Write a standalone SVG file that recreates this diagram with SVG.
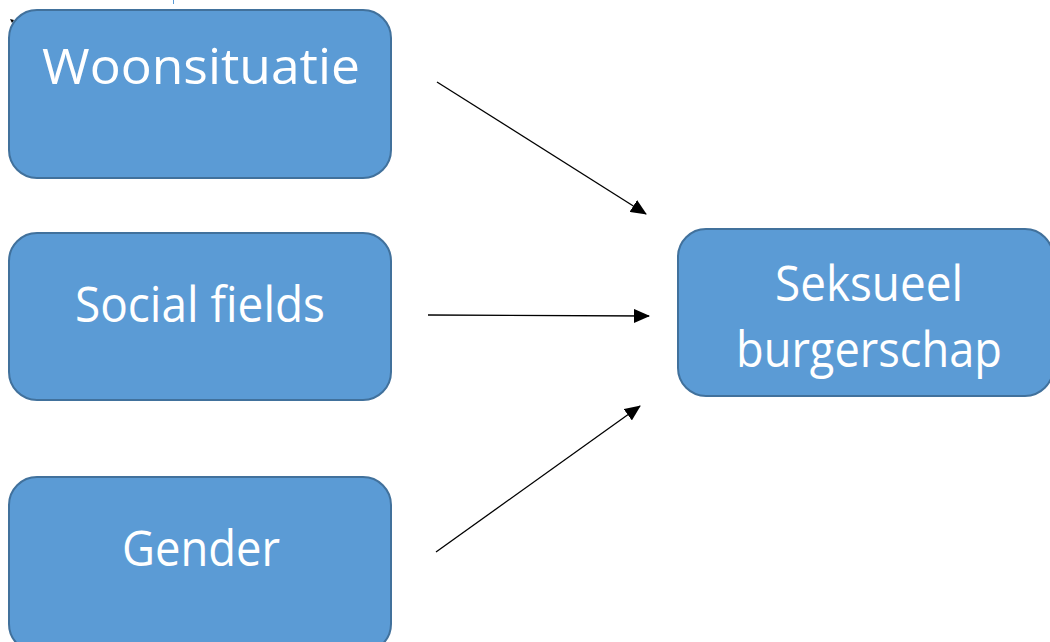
<svg xmlns="http://www.w3.org/2000/svg" width="1050" height="642" viewBox="0 0 1050 642">
<style>
.box{fill:#5B9BD5;stroke:#41719C;stroke-width:2}
.lbl{fill:#ffffff;font-family:"Open Sans","Noto Sans","Liberation Sans",sans-serif;font-size:50px;text-anchor:middle}
.conn{stroke:#000;stroke-width:1.3;fill:none;marker-end:url(#ah)}
</style>
<defs>
<marker id="ah" markerWidth="16" markerHeight="14" refX="15" refY="7" orient="auto" markerUnits="userSpaceOnUse">
<path d="M0,0 L16,7 L0,14 Z" fill="#000"/>
</marker>
</defs>
<rect width="1050" height="642" fill="#ffffff"/>
<line x1="173.5" y1="0" x2="173.5" y2="4" stroke="#5B9BD5" stroke-width="1"/>
<path d="M10,19 L14,20 L12,23 Z" fill="#000"/>
<g id="node-woonsituatie">
<rect class="box" x="9" y="10" width="382" height="168" rx="28"/>
<text class="lbl" x="201" y="84" textLength="318" lengthAdjust="spacingAndGlyphs">Woonsituatie</text>
</g>
<g id="node-social">
<rect class="box" x="9" y="233" width="382" height="167" rx="28"/>
<text class="lbl" x="200" y="322" textLength="250" lengthAdjust="spacingAndGlyphs">Social fields</text>
</g>
<g id="node-gender">
<rect class="box" x="9" y="477" width="382" height="175" rx="28"/>
<text class="lbl" x="201" y="566" textLength="158" lengthAdjust="spacingAndGlyphs">Gender</text>
</g>
<g id="node-seksueel">
<rect class="box" x="678" y="229" width="375" height="167" rx="28"/>
<text class="lbl" x="869" y="301" textLength="188" lengthAdjust="spacingAndGlyphs">Seksueel</text>
<text class="lbl" x="869" y="367" textLength="266" lengthAdjust="spacingAndGlyphs">burgerschap</text>
</g>
<g id="connectors">
<line class="conn" x1="437" y1="82" x2="646" y2="214"/>
<line class="conn" x1="428" y1="315" x2="649" y2="316"/>
<line class="conn" x1="436" y1="552" x2="640" y2="406"/>
</g>
</svg>
